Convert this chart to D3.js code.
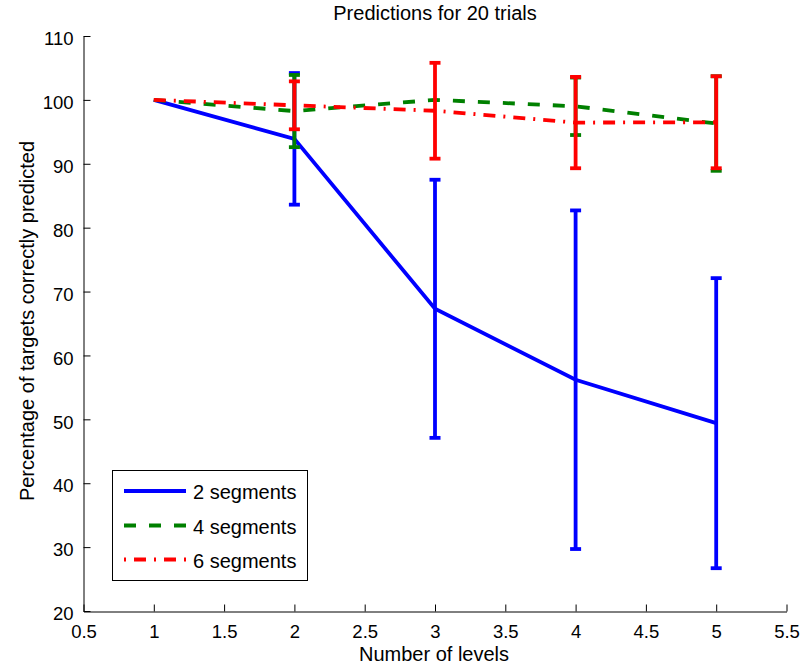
<!DOCTYPE html>
<html>
<head>
<meta charset="utf-8">
<script src="https://cdn.jsdelivr.net/npm/d3@7"></script>
<style>
  html, body { margin: 0; padding: 0; background: #fff; }
  svg { display: block; font-family: "Liberation Sans", Arial, Helvetica, sans-serif; }
</style>
</head>
<body>
<svg id="chart" width="803" height="667"></svg>
<script>
// ---- data ----
const levels = [1, 2, 3, 4, 5];
const seriesNames = ["2 segments", "4 segments", "6 segments"];
const seg2 = [100, 93.9, 67.3, 56.2, 49.4];
const err2 = [0, 10.3, 20.2, 26.5, 22.7];
const seg4 = [100, 98.25, 100, 99.0, 96.3];
const err4 = [0, 5.65, 0, 4.5, 7.4];
const seg6 = [100, 99.15, 98.3, 96.45, 96.5];
const err6 = [0, 3.75, 7.5, 7.15, 7.2];
const xTicks = [0.5, 1, 1.5, 2, 2.5, 3, 3.5, 4, 4.5, 5, 5.5];
const yTicks = [20, 30, 40, 50, 60, 70, 80, 90, 100, 110];
const titleText = "Predictions for 20 trials";
const xLabel = "Number of levels";
const yLabel = "Percentage of targets correctly predicted";

// ---- styles ----
const colors = ["#0000ff", "#008000", "#ff0000"];
const dashes = [null, "12,13", "12,8,2,8"];
const lw = 3.8;

const svg = d3.select("#chart");
const x = d3.scaleLinear().domain([0.5, 5.5]).range([83.5, 786.5]);
const y = d3.scaleLinear().domain([20, 110]).range([611, 36]);

const series = [
  { name: seriesNames[0], vals: seg2, errs: err2 },
  { name: seriesNames[1], vals: seg4, errs: err4 },
  { name: seriesNames[2], vals: seg6, errs: err6 }
];

// axes
const xAxis = svg.append("g").attr("transform", "translate(0,611.5)")
  .call(d3.axisBottom(x).tickValues(xTicks).tickFormat(d3.format("")).tickSizeInner(-7).tickSizeOuter(0));
xAxis.selectAll("text").attr("y", 26).attr("dy", 0).style("font-size", "18.5px").attr("fill", "#000");
const yAxis = svg.append("g").attr("transform", "translate(83.5,0)")
  .call(d3.axisLeft(y).tickValues(yTicks).tickFormat(d3.format("")).tickSizeInner(-7).tickSizeOuter(0).tickPadding(10));
yAxis.selectAll("text").attr("dy", "0.47em").style("font-size", "18.5px").attr("fill", "#000");
svg.selectAll(".domain, .tick line").attr("stroke", "#000").attr("stroke-width", 1);
svg.selectAll(".tick text").style("font-family", "'Liberation Sans', Arial, Helvetica, sans-serif");

// series
const line = d3.line().x((d, i) => x(levels[i])).y(d => y(d));
series.forEach((s, k) => {
  const g = svg.append("g");
  g.append("path").datum(s.vals).attr("d", line)
    .attr("fill", "none").attr("stroke", colors[k]).attr("stroke-width", lw)
    .attr("stroke-dasharray", dashes[k]);
  levels.forEach((lv, i) => {
    const e = s.errs[i];
    if (e <= 0) return;
    const cx = x(lv);
    const top = y(s.vals[i] + e), bot = y(s.vals[i] - e);
    g.append("line").attr("x1", cx).attr("x2", cx).attr("y1", top).attr("y2", bot)
      .attr("stroke", colors[k]).attr("stroke-width", lw);
    [top, bot].forEach(yy => {
      g.append("line").attr("x1", cx - 5.5).attr("x2", cx + 5.5).attr("y1", yy).attr("y2", yy)
        .attr("stroke", colors[k]).attr("stroke-width", lw);
    });
  });
});

// title and labels
svg.append("text").attr("x", 435).attr("y", 19.5).attr("text-anchor", "middle")
  .style("font-size", "20px").text(titleText);
svg.append("text").attr("x", 434).attr("y", 661).attr("text-anchor", "middle")
  .style("font-size", "20px").text(xLabel);
svg.append("text").attr("transform", "translate(34,321) rotate(-90)").attr("text-anchor", "middle")
  .style("font-size", "20px").text(yLabel);

// legend
const lg = svg.append("g");
lg.append("rect").attr("x", 112.5).attr("y", 470.5).attr("width", 195).attr("height", 110)
  .attr("fill", "#fff").attr("stroke", "#000").attr("stroke-width", 1);
const rowsY = [491, 525.5, 559.5];
series.forEach((s, k) => {
  lg.append("line").attr("x1", 124).attr("x2", 186).attr("y1", rowsY[k]).attr("y2", rowsY[k])
    .attr("stroke", colors[k]).attr("stroke-width", lw).attr("stroke-dasharray", dashes[k])
    .attr("stroke-dashoffset", k === 2 ? 20 : 0);
  lg.append("text").attr("x", 193).attr("y", rowsY[k] + 8).style("font-size", "20px").text(s.name);
});
</script>
</body>
</html>
